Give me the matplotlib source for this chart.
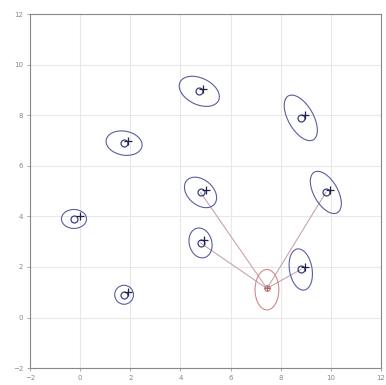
import matplotlib
matplotlib.use('Agg')
import matplotlib.pyplot as plt
from matplotlib.patches import Ellipse

# true landmark positions (plus markers)
lm_x = [0.0, 1.9, 1.9, 4.9, 5.0, 4.95, 8.95, 9.95, 8.95]
lm_y = [4.0, 1.0, 7.0, 9.05, 5.05, 3.05, 2.0, 5.05, 8.0]
# estimated landmark positions (circles)
est_x = [-0.25, 1.75, 1.75, 4.75, 4.8, 4.8, 8.8, 9.8, 8.8]
est_y = [3.9, 0.9, 6.9, 8.95, 4.95, 2.95, 1.9, 4.95, 7.9]
# covariance ellipses: width, height, angle (deg)
ell_w = [1.0, 0.75, 1.45, 1.7, 1.45, 1.2, 1.65, 1.85, 2.0]
ell_h = [0.75, 0.75, 0.95, 1.05, 1.0, 0.9, 0.9, 0.95, 1.0]
ell_a = [0, 0, -10, -25, -40, -75, -80, -60, -60]

# robot estimate
rob_x, rob_y = 7.45, 1.15
rob_w, rob_h, rob_a = 1.6, 0.95, 90
# landmarks currently observed
seen = [4, 5, 6, 7]

fig = plt.figure(figsize=(3.86, 3.85), dpi=100)
ax = fig.add_axes([0.078, 0.044, 0.909, 0.919])

for i in seen:
    ax.plot([rob_x, est_x[i]], [rob_y, est_y[i]], color='#c8a4ac', lw=0.8, zorder=1)

for i in range(len(lm_x)):
    ax.add_patch(Ellipse((est_x[i], est_y[i]), ell_w[i], ell_h[i], angle=ell_a[i],
                         fill=False, ec='#5a5e9e', lw=0.8, zorder=2))
ax.plot(est_x, est_y, 'o', ms=5, mfc='none', mec='#3b3f86', mew=0.9, zorder=3)
ax.plot(lm_x, lm_y, '+', ms=6, color='#222244', mew=0.9, zorder=4)

ax.add_patch(Ellipse((rob_x, rob_y - 0.05), rob_w, rob_h, angle=rob_a,
                     fill=False, ec='#d08a8a', lw=0.8, zorder=2))
ax.plot(rob_x, rob_y, 'o', ms=4, mfc='none', mec='#c87070', mew=0.8, zorder=3)
ax.plot(rob_x, rob_y, '+', ms=5, color='#b06060', mew=0.8, zorder=4)

ax.set_xlim(-2, 12)
ax.set_ylim(-2, 12)
ax.set_xticks(range(-2, 13, 2))
ax.set_yticks(range(-2, 13, 2))
ax.grid(True, color='#e8e8e8', lw=0.8)
ax.set_axisbelow(True)
for s in ax.spines.values():
    s.set_color('#888888')
    s.set_linewidth(0.8)
ax.tick_params(labelsize=5, colors='#888888', length=2, width=0.5, pad=3)

fig.savefig('out.png', dpi=100)
